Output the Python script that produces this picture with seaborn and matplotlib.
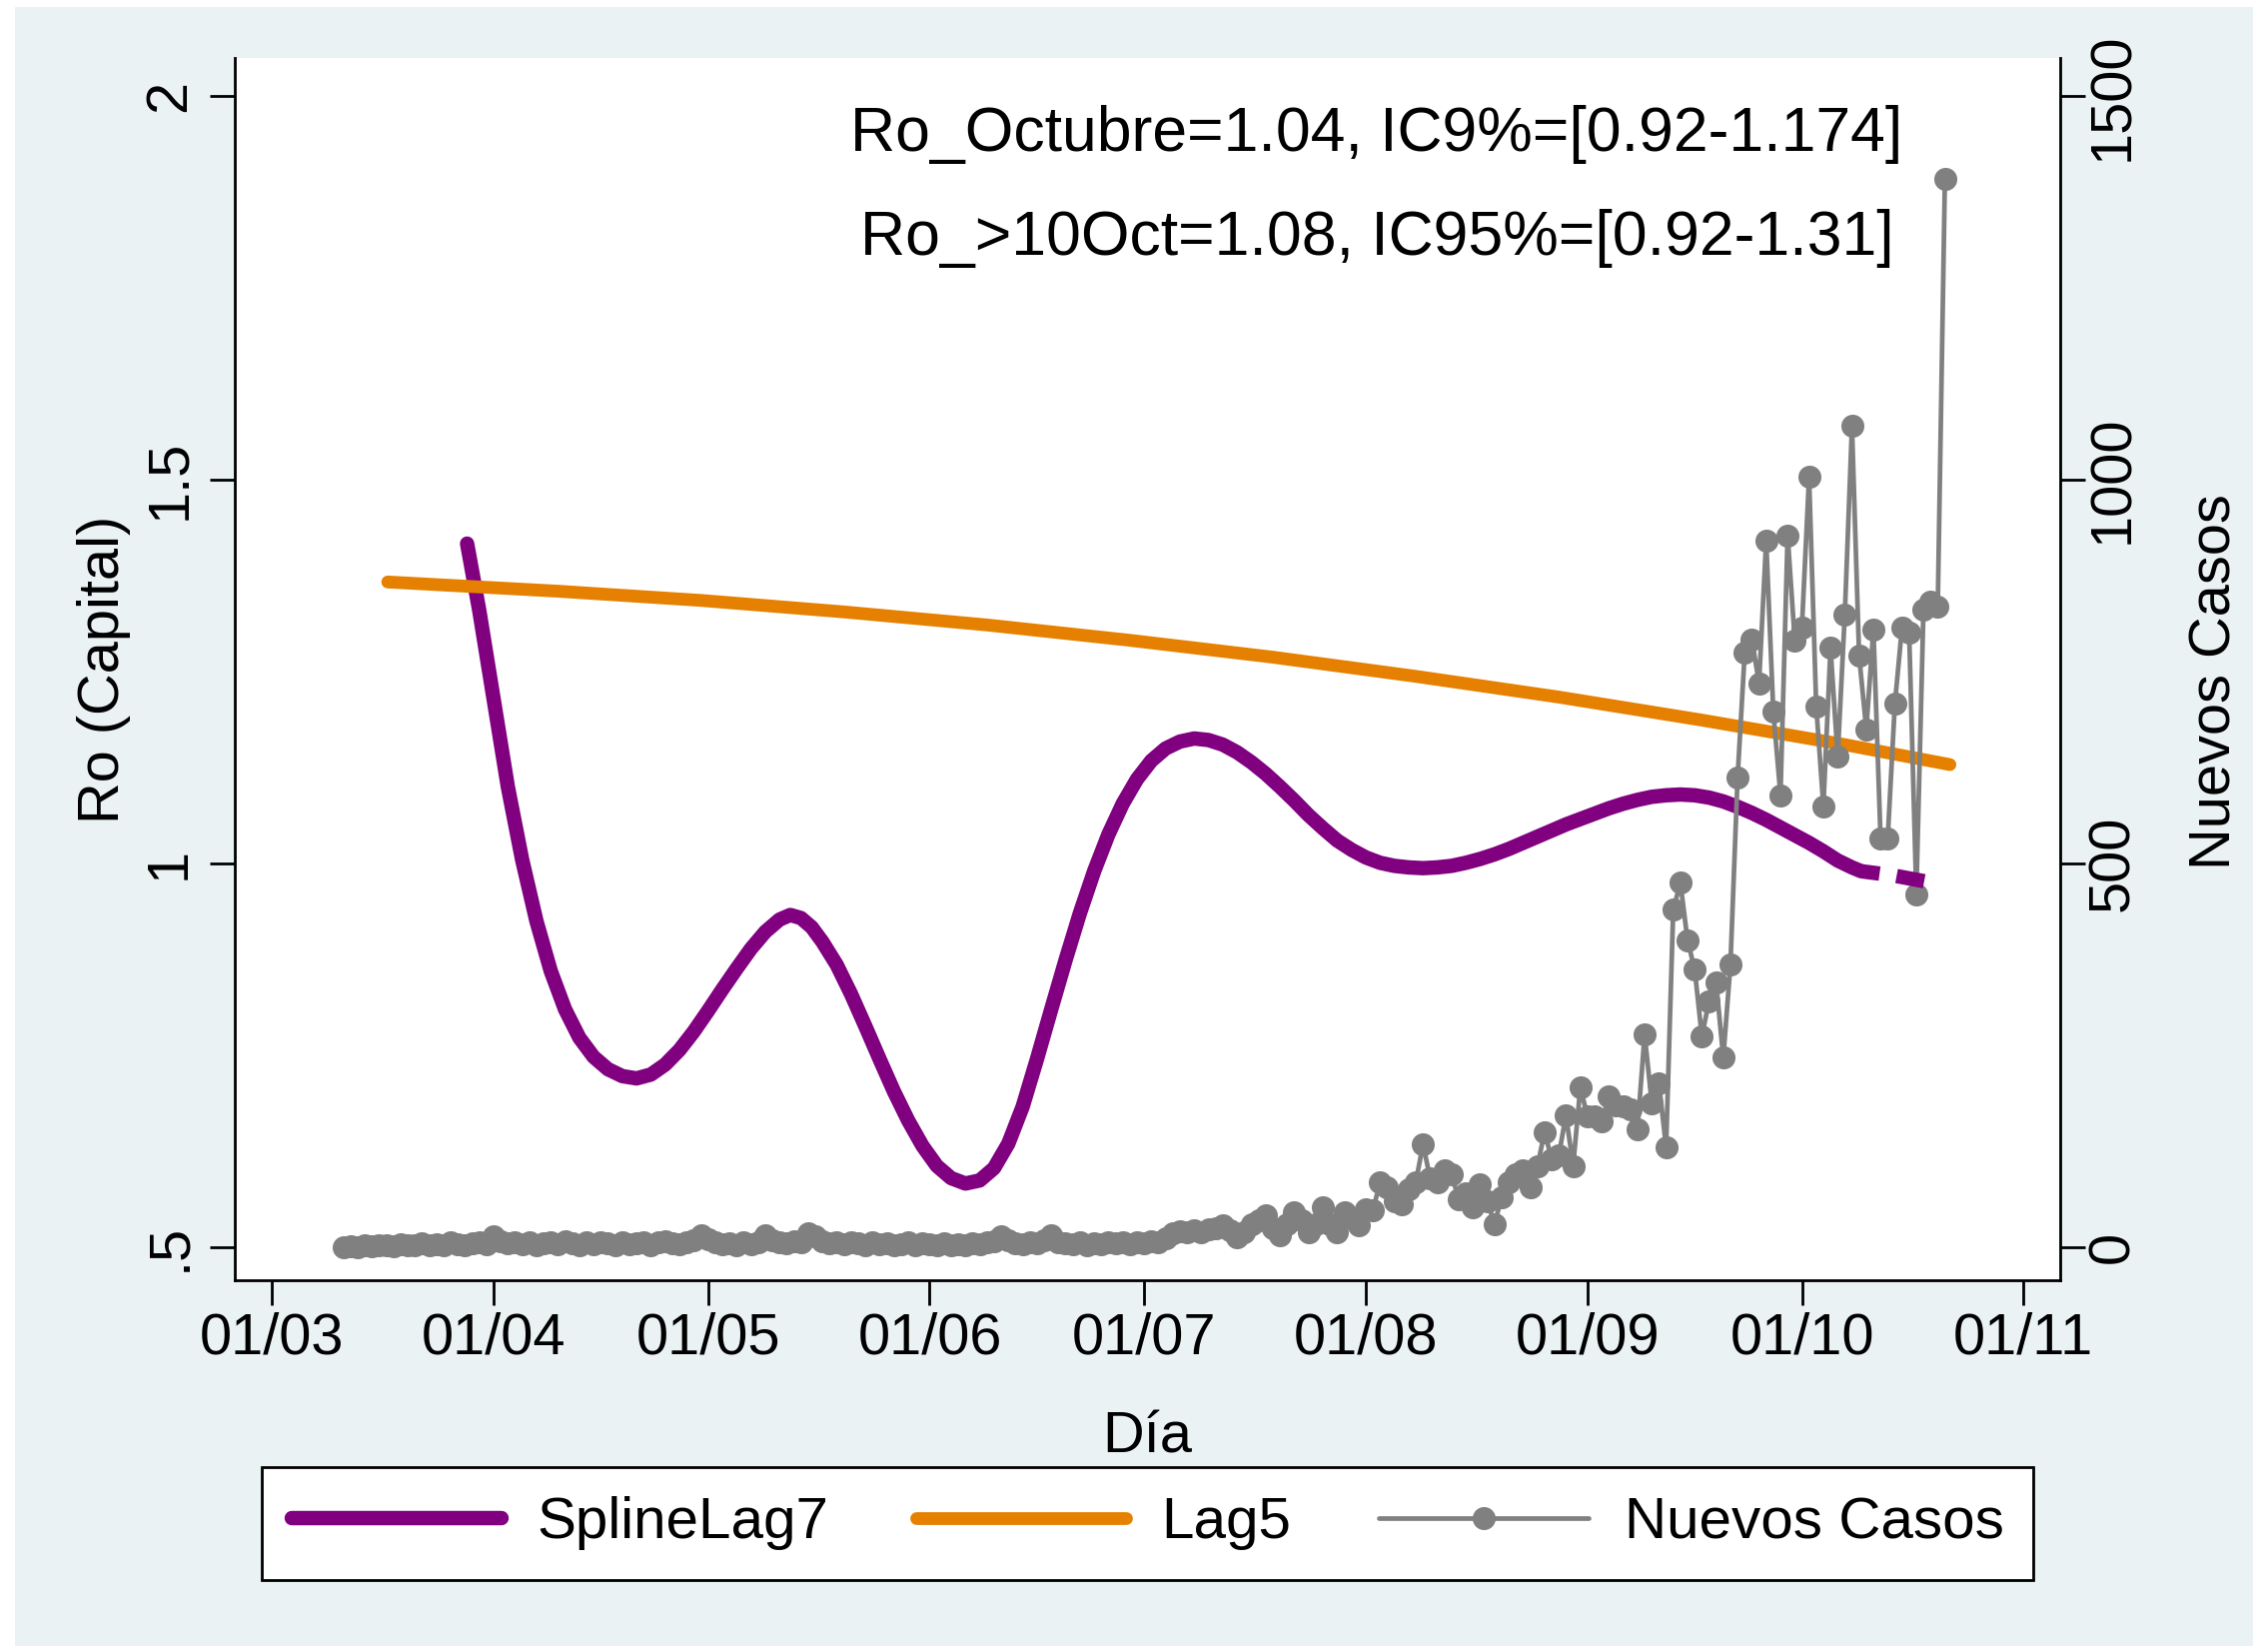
import pandas as pd
import numpy as np
import matplotlib.pyplot as plt
import matplotlib.dates as mdates
from matplotlib.patches import Rectangle
import seaborn as sns

sns.set_style("white")
plt.rcParams['font.family'] = ['Liberation Sans', 'DejaVu Sans']
plt.rcParams['text.color'] = 'black'

inicio = pd.Timestamp("2020-03-01")

# SplineLag7: dias desde el 01/03 y Ro
dias_spline = [27.3, 29, 31, 33, 35, 37, 39, 41, 43, 45, 47, 49, 51, 53, 55, 57, 59, 61, 63, 65,
               67, 69, 71, 72.5, 74, 75.5, 77, 79, 81, 83, 85, 87, 89, 91, 93, 95, 97, 99, 101,
               103, 105, 107, 109, 111, 113, 115, 117, 119, 121, 123, 125, 127, 129, 131, 133,
               135, 137, 139, 141, 143, 145, 147, 149, 151, 153, 155, 157, 159, 161, 163, 165,
               167, 169, 171, 173, 175, 177, 179, 181, 183, 185, 187, 189, 191, 193, 195, 197,
               199, 201, 203, 205, 207, 209, 211, 213, 215, 217, 219, 221, 222.3]
ro_spline = [1.417, 1.330, 1.215, 1.100, 1.005, 0.925, 0.860, 0.810, 0.773, 0.748, 0.732, 0.723,
             0.720, 0.725, 0.738, 0.757, 0.781, 0.808, 0.836, 0.863, 0.889, 0.911, 0.927, 0.933,
             0.929, 0.917, 0.898, 0.868, 0.830, 0.788, 0.745, 0.703, 0.665, 0.632, 0.606, 0.590,
             0.583, 0.587, 0.603, 0.635, 0.683, 0.745, 0.810, 0.874, 0.935, 0.990, 1.038, 1.078,
             1.110, 1.134, 1.150, 1.159, 1.163, 1.161, 1.155, 1.145, 1.132, 1.117, 1.100, 1.082,
             1.063, 1.046, 1.030, 1.018, 1.008, 1.001, 0.997, 0.995, 0.994, 0.995, 0.997, 1.001,
             1.006, 1.012, 1.019, 1.027, 1.035, 1.043, 1.051, 1.058, 1.065, 1.072, 1.078, 1.083,
             1.087, 1.089, 1.090, 1.089, 1.086, 1.081, 1.074, 1.066, 1.057, 1.047, 1.037, 1.027,
             1.016, 1.004, 0.995, 0.990]
# tramo final (discontinuo)
dias_spline_fin = [222.3, 224.8, 227.1, 231.1]
ro_spline_fin = [0.990, 0.987, 0.984, 0.977]

# Lag5
dias_lag5 = [16.2, 40, 60, 80, 100, 120, 140, 160, 180, 200, 220, 234.7]
ro_lag5 = [1.367, 1.355, 1.343, 1.328, 1.311, 1.291, 1.269, 1.244, 1.217, 1.187, 1.155, 1.129]

# Nuevos casos diarios (desde 11/03 hasta 21/10)
casos_mar = [0, 1, 0, 2, 1, 3, 2, 1, 4, 3, 2, 5, 3, 4, 2, 6, 4, 3, 5, 7, 4]
casos_abr = [14, 8, 5, 6, 4, 7, 3, 5, 6, 4, 8, 5, 3, 6, 4, 7, 5, 3, 6, 4, 5, 7, 3, 6, 8, 5, 4, 7, 9, 16]
casos_may = [10, 6, 4, 5, 3, 6, 4, 7, 15, 9, 6, 5, 8, 7, 18, 14, 8, 5, 6, 4, 7, 5, 3, 6, 4, 5, 3, 4, 6, 3, 5]
casos_jun = [4, 3, 5, 2, 4, 3, 5, 4, 6, 8, 14, 9, 5, 4, 6, 5, 9, 15, 7, 5, 4, 6, 3, 5, 4, 6, 5, 7, 4, 6]
casos_jul = [5, 8, 6, 12, 18, 21, 20, 22, 19, 23, 25, 28, 22, 13, 20, 30, 35, 41, 25, 15, 30, 45, 35, 19,
             30, 52, 30, 19, 45, 38, 28]
casos_ago = [50, 48, 85, 78, 60, 56, 75, 85, 134, 90, 85, 100, 95, 62, 70, 52, 82, 60, 30, 65, 85, 95,
             100, 78, 105, 150, 115, 120, 172, 106, 208]
casos_sep = [171, 170, 164, 197, 185, 184, 180, 154, 277, 188, 214, 130, 440, 475, 400, 362, 275, 320,
             345, 247, 368, 612, 775, 792, 735, 921, 698, 589, 928, 791]
casos_oct = [808, 1004, 705, 575, 781, 639, 825, 1070, 771, 675, 805, 533, 533, 708, 808, 801, 460, 831,
             841, 835, 1393]

casos = casos_mar + casos_abr + casos_may + casos_jun + casos_jul + casos_ago + casos_sep + casos_oct
fechas_casos = pd.date_range("2020-03-11", periods=len(casos), freq="D")

fechas_spline = inicio + pd.to_timedelta(dias_spline, unit="D")
fechas_spline_fin = inicio + pd.to_timedelta(dias_spline_fin, unit="D")
fechas_lag5 = inicio + pd.to_timedelta(dias_lag5, unit="D")

morado = "#800080"
naranja = "#E58000"
gris = "#808080"

fig = plt.figure(figsize=(11.35, 8.26), dpi=200)
fig.patch.set_facecolor("white")
fig.patches.append(Rectangle((0.0064, 0.003), 0.987, 0.9928, transform=fig.transFigure,
                             facecolor="#EAF2F3", edgecolor="none", zorder=-10))

ax = fig.add_axes([0.1035, 0.2246, 0.8048, 0.7403])
ax.set_facecolor("white")
ax2 = ax.twinx()
ax3 = ax.twinx()

sns.lineplot(x=fechas_spline, y=ro_spline, ax=ax, color=morado, linewidth=5.2,
             solid_capstyle="round", solid_joinstyle="round")
l1 = ax.get_lines()[-1]
sns.lineplot(x=fechas_lag5, y=ro_lag5, ax=ax, color=naranja, linewidth=4.6,
             solid_capstyle="round")
l2 = ax.get_lines()[-1]
sns.lineplot(x=fechas_casos, y=casos, ax=ax2, color=gris, linewidth=1.7, marker="o",
             markersize=8.3, markeredgewidth=0)
l3 = ax2.get_lines()[-1]
sns.lineplot(x=fechas_spline_fin, y=ro_spline_fin, ax=ax3, color=morado, linewidth=5.2,
             linestyle=(0.78, (2.06, 1.19)), dash_capstyle="butt")

x0 = inicio - pd.Timedelta(days=5.2)
x1 = pd.Timestamp("2020-11-01") + pd.Timedelta(days=5.1)
ax.set_xlim(x0, x1)
ax.set_ylim(0.457, 2.050)
ax2.set_ylim(-43, 1550)
ax3.set_ylim(0.457, 2.050)
ax3.axis("off")

ax.xaxis.set_major_locator(mdates.MonthLocator())
ax.xaxis.set_major_formatter(mdates.DateFormatter("%d/%m"))

ax.set_yticks([0.5, 1, 1.5, 2])
ax.set_yticklabels([".5", "1", "1.5", "2"], rotation=90, va="center")
ax2.set_yticks([0, 500, 1000, 1500])
ax2.set_yticklabels(["0", "500", "1000", "1500"], rotation=90, va="center")

ax.tick_params(axis="x", bottom=True, direction="out", length=9, width=1, pad=2.4,
               labelsize=20.8, color="black", labelcolor="black")
ax.tick_params(axis="y", left=True, right=False, direction="out", length=9, width=1, pad=4.7,
               labelsize=20.8, color="black", labelcolor="black")
ax2.tick_params(axis="y", right=True, left=False, direction="out", length=9, width=1, pad=0.5,
                labelsize=20.8, color="black", labelcolor="black")

for a in (ax, ax2):
    a.set_xlabel("")
    a.set_ylabel("")
    a.spines["top"].set_visible(False)
    for s in a.spines.values():
        s.set_color("black")
        s.set_linewidth(1.0)
ax.spines["right"].set_visible(False)
ax2.spines["left"].set_visible(False)
ax2.spines["bottom"].set_visible(False)

ax.text(-0.0717, 0.5, "Ro (Capital)", rotation=90, ha="center", va="center",
        fontsize=20.8, color="black", transform=ax.transAxes)
ax.text(1.0854, 0.49, "Nuevos Casos", rotation=90, ha="center", va="center",
        fontsize=20.8, color="black", transform=ax.transAxes)
ax.text(0.5, -0.129, "Día", ha="center", va="center", fontsize=20.8, color="black",
        transform=ax.transAxes)

ax.text(0.6256, 0.9376, "Ro_Octubre=1.04, IC9%=[0.92-1.174]", ha="center", va="center",
        fontsize=22.5, color="black", transform=ax.transAxes)
ax.text(0.6256, 0.852, "Ro_>10Oct=1.08, IC95%=[0.92-1.31]", ha="center", va="center",
        fontsize=22.5, color="black", transform=ax.transAxes)

leg = fig.legend([l1, l2, l3], ["SplineLag7", "Lag5", "Nuevos Casos"], loc="center",
                 bbox_to_anchor=(0.506, 0.0772), ncol=3, fontsize=21, frameon=True,
                 fancybox=False, edgecolor="black", handlelength=3.6, handletextpad=0.62,
                 columnspacing=1.49, borderpad=0.5, labelcolor="black")
leg.get_frame().set_linewidth(1.0)
leg.get_frame().set_facecolor("white")
leg.get_frame().set_alpha(1)

fig.savefig("out.png", dpi=200)
